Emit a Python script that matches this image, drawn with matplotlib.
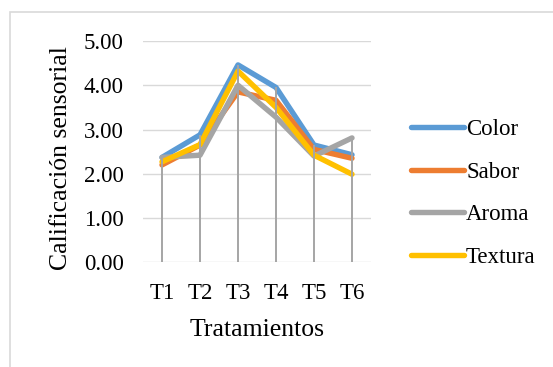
import matplotlib
matplotlib.use("Agg")
import matplotlib.pyplot as plt
from matplotlib.patches import Rectangle
import numpy as np

plt.rcParams['font.family'] = ['Liberation Serif', 'DejaVu Serif']

tratamientos = ["T1", "T2", "T3", "T4", "T5", "T6"]
color = [2.37, 2.88, 4.46, 3.95, 2.65, 2.43]
sabor = [2.20, 2.65, 3.85, 3.66, 2.55, 2.35]
aroma = [2.37, 2.42, 4.00, 3.28, 2.40, 2.81]
textura = [2.27, 2.66, 4.32, 3.50, 2.42, 1.99]

series = [("Color", color, "#5B9BD5"),
          ("Sabor", sabor, "#ED7D31"),
          ("Aroma", aroma, "#A5A5A5"),
          ("Textura", textura, "#FFC000")]

fig = plt.figure(figsize=(5.53, 3.67), dpi=100)
# chart area border
fig.patches.append(Rectangle((10 / 553, -0.1), 1.0, 1 - 12 / 367 + 0.1,
                             transform=fig.transFigure, fill=False,
                             edgecolor="#D9D9D9", linewidth=1.2))

ax = fig.add_axes([143 / 553, 1 - 262.3 / 367, 228 / 553, 221.3 / 367])
x = np.arange(1, len(tratamientos) + 1)

for name, vals, c in series:
    ax.plot(x, vals, color=c, linewidth=3.9, label=name,
            solid_capstyle="round", solid_joinstyle="round", zorder=3)

# drop lines from the highest point down to the axis
top = np.max([s[1] for s in series], axis=0)
ax.vlines(x, 0, top, color="#A5A5A5", linewidth=1.4, zorder=4)

ax.set_xlim(0.5, len(tratamientos) + 0.5)
ax.set_ylim(0, 5)
ax.set_yticks(np.arange(0, 5.01, 1))
ax.set_yticklabels([f"{v:.2f}" for v in np.arange(0, 5.01, 1)])
ax.set_xticks(x)
ax.set_xticklabels(tratamientos)
ax.grid(axis="y", color="#D9D9D9", linewidth=1.0, zorder=0)
ax.set_axisbelow(True)
for s in ax.spines.values():
    s.set_visible(False)
ax.tick_params(axis="both", length=0, labelsize=16.5)
ax.tick_params(axis="y", pad=14)
ax.tick_params(axis="x", pad=15)

ax.set_ylabel("Calificación sensorial", fontsize=18.5, labelpad=8, y=0.47)
ax.set_xlabel("Tratamientos", fontsize=18.5, labelpad=11)

fig.legend(loc="center left", bbox_to_anchor=(411 / 553, 1 - 193.5 / 367),
           frameon=False, fontsize=16.5, handlelength=2.3, handletextpad=0.1,
           labelspacing=0.95, borderpad=0, borderaxespad=0)

fig.savefig("out.png", dpi=100)
